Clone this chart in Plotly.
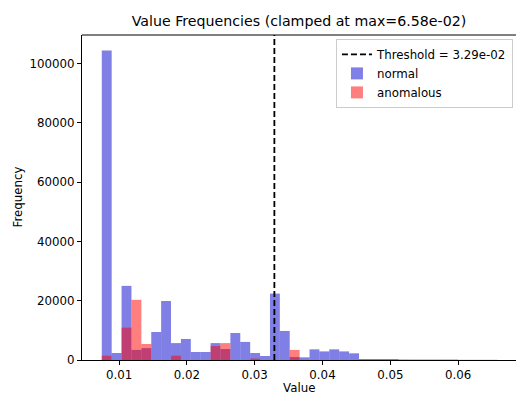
import numpy as np
import plotly.graph_objects as go

# Histogram summary: 40 equal-width bins between the minimum value and the clamp maximum
VALUE_MIN = 0.00745
VALUE_MAX = 0.0658
THRESHOLD = 0.0329
N_BINS = 40

normal_counts = [
    104400, 2350, 25000, 3400, 4000, 9450, 19900, 5700, 7100, 2700,
    2700, 5700, 3700, 9100, 6100, 2350, 1350, 22400, 9800, 1000,
    900, 3600, 2900, 3600, 2900, 2250, 300, 300, 300, 300,
    80, 60, 60, 60, 60, 60, 60, 60, 60, 60,
]
anomalous_counts = [
    1450, 0, 10900, 20300, 5400, 0, 0, 1450, 0, 0,
    0, 4700, 5700, 0, 0, 500, 0, 0, 0, 3400,
    0, 0, 0, 0, 0, 0, 150, 150, 150, 150,
    150, 150, 150, 150, 150, 150, 0, 0, 0, 0,
]

x_ticks = [0.01, 0.02, 0.03, 0.04, 0.05, 0.06]
x_tick_labels = ["0.01", "0.02", "0.03", "0.04", "0.05", "0.06"]
y_ticks = [0, 20000, 40000, 60000, 80000, 100000]
y_tick_labels = ["0", "20000", "40000", "60000", "80000", "100000"]

edges = np.linspace(VALUE_MIN, VALUE_MAX, N_BINS + 1)
centers = (edges[:-1] + edges[1:]) / 2
bin_width = edges[1] - edges[0]

FONT = "DejaVu Sans"

fig = go.Figure()
fig.add_trace(go.Bar(
    x=centers, y=normal_counts, width=bin_width, name="normal",
    marker=dict(color="rgba(0,0,205,0.5)", line=dict(width=0)),
    legendrank=2,
))
fig.add_trace(go.Bar(
    x=centers, y=anomalous_counts, width=bin_width, name="anomalous",
    marker=dict(color="rgba(255,0,0,0.5)", line=dict(width=0)),
    legendrank=3,
))

# threshold marker spanning the full plot height
fig.add_shape(
    type="line", xref="x", yref="paper",
    x0=THRESHOLD, x1=THRESHOLD, y0=0, y1=1,
    line=dict(color="black", width=1.8, dash="6px,3px"),
    showlegend=True, name=f"Threshold = {THRESHOLD:.2e}", legendrank=1,
)
# top spine
fig.add_shape(
    type="line", xref="paper", yref="paper", x0=0, x1=1, y0=1, y1=1,
    line=dict(color="black", width=1),
)

span = VALUE_MAX - VALUE_MIN
y_top = max(normal_counts) * 1.05

fig.update_layout(
    width=516, height=394,
    margin=dict(l=82, r=0, t=35, b=34),
    paper_bgcolor="white", plot_bgcolor="white",
    barmode="overlay",
    font=dict(family=FONT, size=12, color="black"),
    title=dict(
        text=f"Value Frequencies (clamped at max={VALUE_MAX:.2e})",
        x=0.5, xref="paper", xanchor="center",
        y=1 - 21 / 394, yref="container", yanchor="middle",
        font=dict(family=FONT, size=14.2, color="black"),
    ),
    xaxis=dict(
        range=[VALUE_MIN - 0.05 * span, VALUE_MIN - 0.05 * span + 0.0640],
        tickvals=x_ticks, ticktext=x_tick_labels,
        showgrid=False, zeroline=False,
        showline=True, linecolor="black", linewidth=1,
        ticks="outside", ticklen=4, tickwidth=1, tickcolor="black",
        tickfont=dict(family=FONT, size=11.8, color="black"),
    ),
    yaxis=dict(
        range=[0, y_top],
        tickvals=y_ticks, ticktext=y_tick_labels,
        showgrid=False, zeroline=False,
        showline=True, linecolor="black", linewidth=1,
        ticks="outside", ticklen=4, tickwidth=1, tickcolor="black",
        tickfont=dict(family=FONT, size=11.8, color="black"),
    ),
    legend=dict(
        x=0.993, y=0.988, xanchor="right", yanchor="top",
        bgcolor="rgba(255,255,255,0.8)", bordercolor="#cccccc", borderwidth=1,
        font=dict(family=FONT, size=11.8, color="black"),
        traceorder="normal",
    ),
    annotations=[
        dict(text="Value", xref="paper", yref="paper", x=0.5, y=-28 / 325,
             xanchor="center", yanchor="middle", showarrow=False,
             font=dict(family=FONT, size=11.8, color="black")),
        dict(text="Frequency", xref="paper", yref="paper", x=-65 / 434, y=0.5,
             xanchor="center", yanchor="middle", textangle=-90, showarrow=False,
             font=dict(family=FONT, size=11.8, color="black")),
    ],
)

fig.write_html("out.html")
